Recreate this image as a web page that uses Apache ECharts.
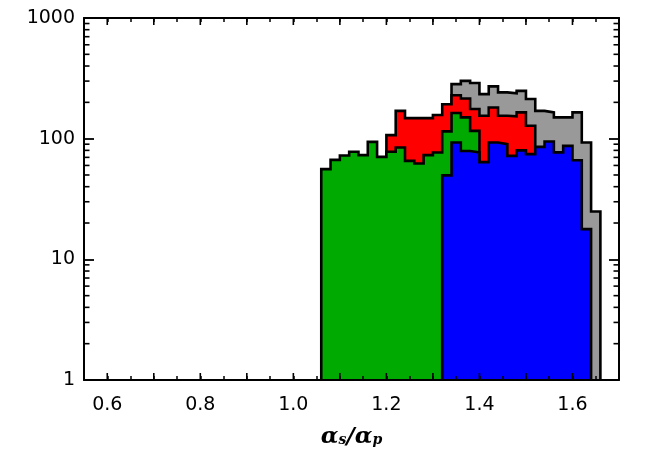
<!DOCTYPE html>
<html>
<head>
    <meta charset="UTF-8">
    <title>alpha ratio histogram</title>
    <style>
        html, body { margin: 0; padding: 0; background: #fff; }
        #main { width: 668px; height: 454px; }
    </style>
</head>
<body>
<div id="main"></div>
<script src="https://cdn.jsdelivr.net/npm/echarts@6/dist/echarts.min.js"></script>
<script>
    // bin left edges, width 0.02
    var binLeft = [1.06, 1.08, 1.10, 1.12, 1.14, 1.16, 1.18, 1.20, 1.22, 1.24,
                   1.26, 1.28, 1.30, 1.32, 1.34, 1.36, 1.38, 1.40, 1.42, 1.44,
                   1.46, 1.48, 1.50, 1.52, 1.54, 1.56, 1.58, 1.60, 1.62, 1.64];
    var binWidth = 0.02;

    // counts per bin, null = layer not drawn there
    var grayCounts = [null, null, null, null, null, null, null, null, null, null,
                      null, null, null, null, 283, 301, 289, 234, 271, 242,
                      238, 249, 213, 170, 165, 150, 150, 165, 93, 24.9];
    var redCounts = [null, null, null, null, null, null, null, 107, 170, 148,
                     148, 148, 157, 193, 229, 215, 176, 155, 181, 155,
                     153, 165, 128, null, null, null, null, null, null, null];
    var greenCounts = [55.9, 66.7, 72.6, 77.8, 73, 94, 70.6, 77.8, 84.6, 65.5,
                       62.3, 73, 76.9, 115, 163, 150, 116, null, null, null,
                       null, null, null, null, null, null, null, null, null, null];
    var blueCounts = [null, null, null, null, null, null, null, null, null, null,
                      null, null, null, 49.6, 93, 79, 77, 63.9, 93, 90,
                      72, 80, 74.4, 85.5, 94.8, 77, 87.2, 66.3, 17.8, null];

    var xMajorTicks = [0.6, 0.7, 0.8, 0.9, 1.0, 1.1, 1.2, 1.3, 1.4, 1.5, 1.6];
    var yMinorTicks = [2, 3, 4, 5, 6, 7, 8, 9,
                       20, 30, 40, 50, 60, 70, 80, 90,
                       200, 300, 400, 500, 600, 700, 800, 900];

    var xMin = 0.55, xMax = 1.70, yMin = 1, yMax = 1000;

    // step outline points for one layer (closed down to the axis bottom)
    function stepPoints(counts) {
        var pts = [];
        var first = -1, last = -1;
        for (var i = 0; i < counts.length; i++) {
            if (counts[i] != null) {
                if (first < 0) first = i;
                last = i;
            }
        }
        pts.push([binLeft[first], yMin]);
        for (var j = first; j <= last; j++) {
            pts.push([binLeft[j], counts[j]]);
        }
        var rightEdge = +(binLeft[last] + binWidth).toFixed(2);
        pts.push([rightEdge, counts[last]]);
        pts.push([rightEdge, yMin]);
        return pts;
    }

    function histSeries(counts, color, z) {
        return {
            type: 'line',
            step: 'end',
            z: z,
            symbol: 'none',
            silent: true,
            data: stepPoints(counts),
            lineStyle: { color: '#000', width: 2.6, join: 'miter' },
            areaStyle: { color: color, opacity: 1, origin: 'start' }
        };
    }

    var labelFont = { color: '#000', fontSize: 19, fontFamily: 'DejaVu Sans' };
    var frame = { color: '#000', width: 2 };

    var chart = echarts.init(document.getElementById('main'));
    var option = {
        animation: false,
        backgroundColor: '#fff',
        grid: { left: 84, right: 49, top: 18, bottom: 73 },
        xAxis: [
            {
                type: 'value', min: xMin, max: xMax, interval: 0.05, z: 10,
                position: 'bottom',
                name: '{g|α}{sub|s}{g|/α}{sub|p}',
                nameLocation: 'middle',
                nameGap: 46,
                nameTextStyle: {
                    rich: {
                        g: { fontSize: 23, fontWeight: 'bold', fontStyle: 'italic',
                             fontFamily: 'DejaVu Serif', color: '#000', padding: [0, 0, 5, 0] },
                        sub: { fontSize: 14, fontWeight: 'bold', fontStyle: 'italic',
                               fontFamily: 'DejaVu Serif', color: '#000' }
                    }
                },
                axisLine: { lineStyle: frame },
                axisTick: { inside: true, length: 4, lineStyle: { color: '#000', width: 1.5 } },
                splitLine: { show: false },
                axisLabel: Object.assign({
                    margin: 16,
                    formatter: function (v) {
                        var t = Math.round(v * 100);
                        return t % 20 === 0 ? (t / 100).toFixed(1) : '';
                    }
                }, labelFont)
            },
            {
                type: 'value', min: xMin, max: xMax, interval: 0.05, z: 10,
                position: 'top',
                axisLine: { lineStyle: frame },
                axisTick: { inside: true, length: 4, lineStyle: { color: '#000', width: 1.5 } },
                splitLine: { show: false },
                axisLabel: { show: false }
            }
        ],
        yAxis: [
            {
                type: 'log', logBase: 10, min: yMin, max: yMax, interval: 1, z: 10,
                position: 'left',
                axisLine: { show: true, lineStyle: frame },
                axisTick: { show: true, inside: true, length: 10, lineStyle: { color: '#000', width: 1.8 } },
                minorTick: { show: false },
                splitLine: { show: false },
                axisLabel: Object.assign({
                    margin: 9,
                    formatter: function (v) { return String(Math.round(v)); }
                }, labelFont)
            },
            {
                type: 'log', logBase: 10, min: yMin, max: yMax, interval: 1, z: 10,
                position: 'right',
                axisLine: { show: true, lineStyle: frame },
                axisTick: { show: true, inside: true, length: 10, lineStyle: { color: '#000', width: 1.8 } },
                minorTick: { show: false },
                splitLine: { show: false },
                axisLabel: { show: false }
            }
        ],
        series: [
            histSeries(grayCounts, '#999999', 2),
            histSeries(redCounts, '#ff0000', 3),
            histSeries(greenCounts, '#00aa00', 4),
            histSeries(blueCounts, '#0000ff', 5)
        ]
    };
    chart.setOption(option);

    // longer x ticks every 0.1 and log minor ticks, placed through the axes
    var ticks = [];
    var tickStyle = { stroke: '#000', lineWidth: 1.6 };
    var finder = { xAxisIndex: 0, yAxisIndex: 0 };
    yMinorTicks.forEach(function (v) {
        var l = chart.convertToPixel(finder, [xMin, v]);
        var r = chart.convertToPixel(finder, [xMax, v]);
        ticks.push({ type: 'line', z: 20, silent: true, style: tickStyle,
                     shape: { x1: l[0], y1: l[1], x2: l[0] + 5.5, y2: l[1] } });
        ticks.push({ type: 'line', z: 20, silent: true, style: tickStyle,
                     shape: { x1: r[0], y1: r[1], x2: r[0] - 5.5, y2: r[1] } });
    });
    xMajorTicks.forEach(function (v) {
        var b = chart.convertToPixel(finder, [v, yMin]);
        var t = chart.convertToPixel(finder, [v, yMax]);
        ticks.push({ type: 'line', z: 20, silent: true, style: tickStyle,
                     shape: { x1: b[0], y1: b[1], x2: b[0], y2: b[1] - 7 } });
        ticks.push({ type: 'line', z: 20, silent: true, style: tickStyle,
                     shape: { x1: t[0], y1: t[1], x2: t[0], y2: t[1] + 7 } });
    });
    chart.setOption({ graphic: ticks });
</script>
</body>
</html>
